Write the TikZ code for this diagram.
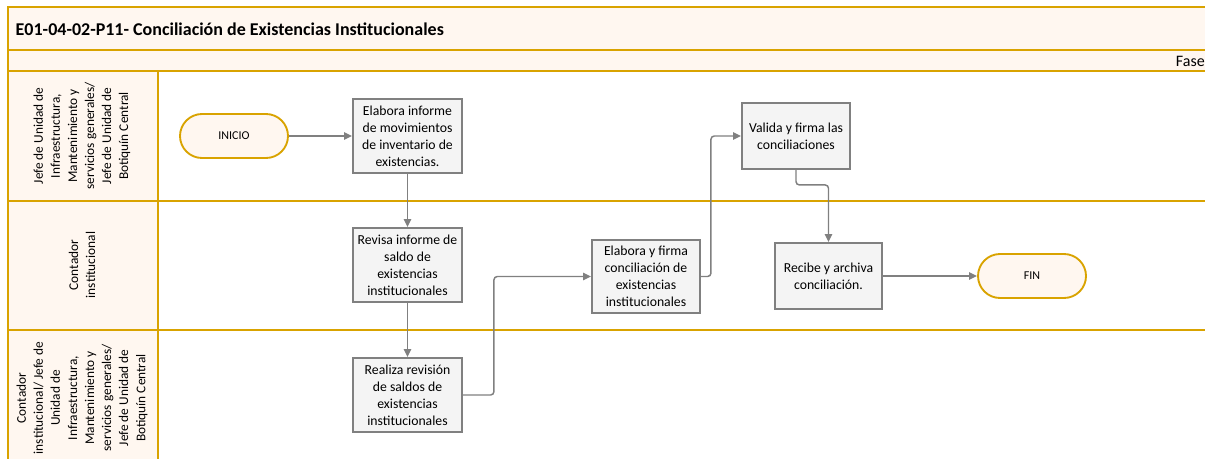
\documentclass[tikz,border=0pt]{standalone}
\usepackage{fontspec}
\setmainfont{Carlito}
\usetikzlibrary{arrows.meta,calc}
\definecolor{gold}{RGB}{217,163,0}
\definecolor{cream}{RGB}{255,247,240}
\definecolor{boxfill}{RGB}{244,244,244}
\definecolor{boxline}{RGB}{128,128,128}
\definecolor{conn}{RGB}{128,128,128}
\tikzset{
  proc/.style={draw=boxline, line width=1.4pt, fill=boxfill, align=center,
    font=\fontsize{10.3pt}{12.7pt}\selectfont, inner sep=1pt},
  term/.style={draw=gold, line width=1.4pt, fill=cream, rounded corners=16.5pt,
    font=\fontsize{9pt}{11pt}\selectfont, minimum width=81pt, minimum height=33pt},
  lanelabel/.style={rotate=90, align=center, font=\fontsize{10pt}{12.8pt}\selectfont},
  flow/.style={draw=conn, line width=1.1pt, rounded corners=2.5pt,
    -{Triangle[length=6pt,width=5.5pt]}},
  goldline/.style={draw=gold, line width=1.4pt}
}
\begin{document}
\begin{tikzpicture}[x=0.75pt,y=-0.75pt]
\useasboundingbox (0,0) rectangle (1205,458);
\begin{scope}
\clip (0,0) rectangle (1205,458);
% header bands
\fill[cream] (8,7) rectangle (1220,71);
\fill[cream] (8,71) rectangle (158,475);
\draw[goldline] (1220,7) -- (8,7) -- (8,475);
\draw[goldline] (8,50) -- (1220,50);
\draw[goldline] (8,71) -- (1220,71);
\draw[goldline] (8,201) -- (1220,201);
\draw[goldline] (8,330) -- (1220,330);
\draw[goldline] (158,71) -- (158,475);
\node[anchor=west, font=\fontsize{13.5pt}{15pt}\selectfont\bfseries] (title) at (11,29) {E01-04-02-P11- Conciliación de Existencias Institucionales};
\node[anchor=east, font=\fontsize{12pt}{14pt}\selectfont, inner sep=0pt] (fase) at (1205,61) {Fase};
% lane labels
\node[lanelabel] (l1) at (82,136) {Jefe de Unidad de\\Infraestructura,\\Mantenimiento y\\servicios generales/\\Jefe de Unidad de\\Botiquín Central};
\node[lanelabel] (l2) at (82,265) {Contador\\institucional};
\node[lanelabel] (l3) at (82,398) {Contador\\institucional/ Jefe de\\Unidad de\\Infraestructura,\\Mantenimiento y\\servicios generales/\\Jefe de Unidad de\\Botiquín Central};
\end{scope}
% nodes
\node[term] (inicio) at (234,136) {INICIO};
\node[proc, minimum width=81.75pt, minimum height=55.5pt] (b1) at (407.5,136) {Elabora informe\\de movimientos\\de inventario de\\existencias.};
\node[proc, minimum width=81.75pt, minimum height=55.5pt] (b2) at (407.5,265) {Revisa informe de\\saldo de\\existencias\\institucionales};
\node[proc, minimum width=81.75pt, minimum height=55.5pt] (b3) at (407.5,395) {Realiza revisión\\de saldos de\\existencias\\institucionales};
\node[proc, minimum width=81pt, minimum height=54.75pt] (b4) at (646,276.5) {Elabora y firma\\conciliación de\\existencias\\institucionales};
\node[proc, minimum width=81pt, minimum height=49.5pt] (b5) at (796,136) {Valida y firma las\\conciliaciones};
\node[proc, minimum width=80.25pt, minimum height=49.5pt] (b6) at (828.5,276) {Recibe y archiva\\conciliación.};
\node[term] (fin) at (1032,276) {FIN};
% connectors
\draw[flow] (inicio.east) -- (b1.west);
\draw[flow] (b1.south) -- (b2.north);
\draw[flow] (b2.south) -- (b3.north);
\draw[flow] (b3.east) -- ++(31,0) |- (b4.west);
\draw[flow] (b4.east) -- ++(10,0) |- (b5.west);
\draw[flow] (b5.south) -- ++(0,15) -| (b6.north);
\draw[flow] (b6.east) -- (fin.west);
\end{tikzpicture}
\end{document}
